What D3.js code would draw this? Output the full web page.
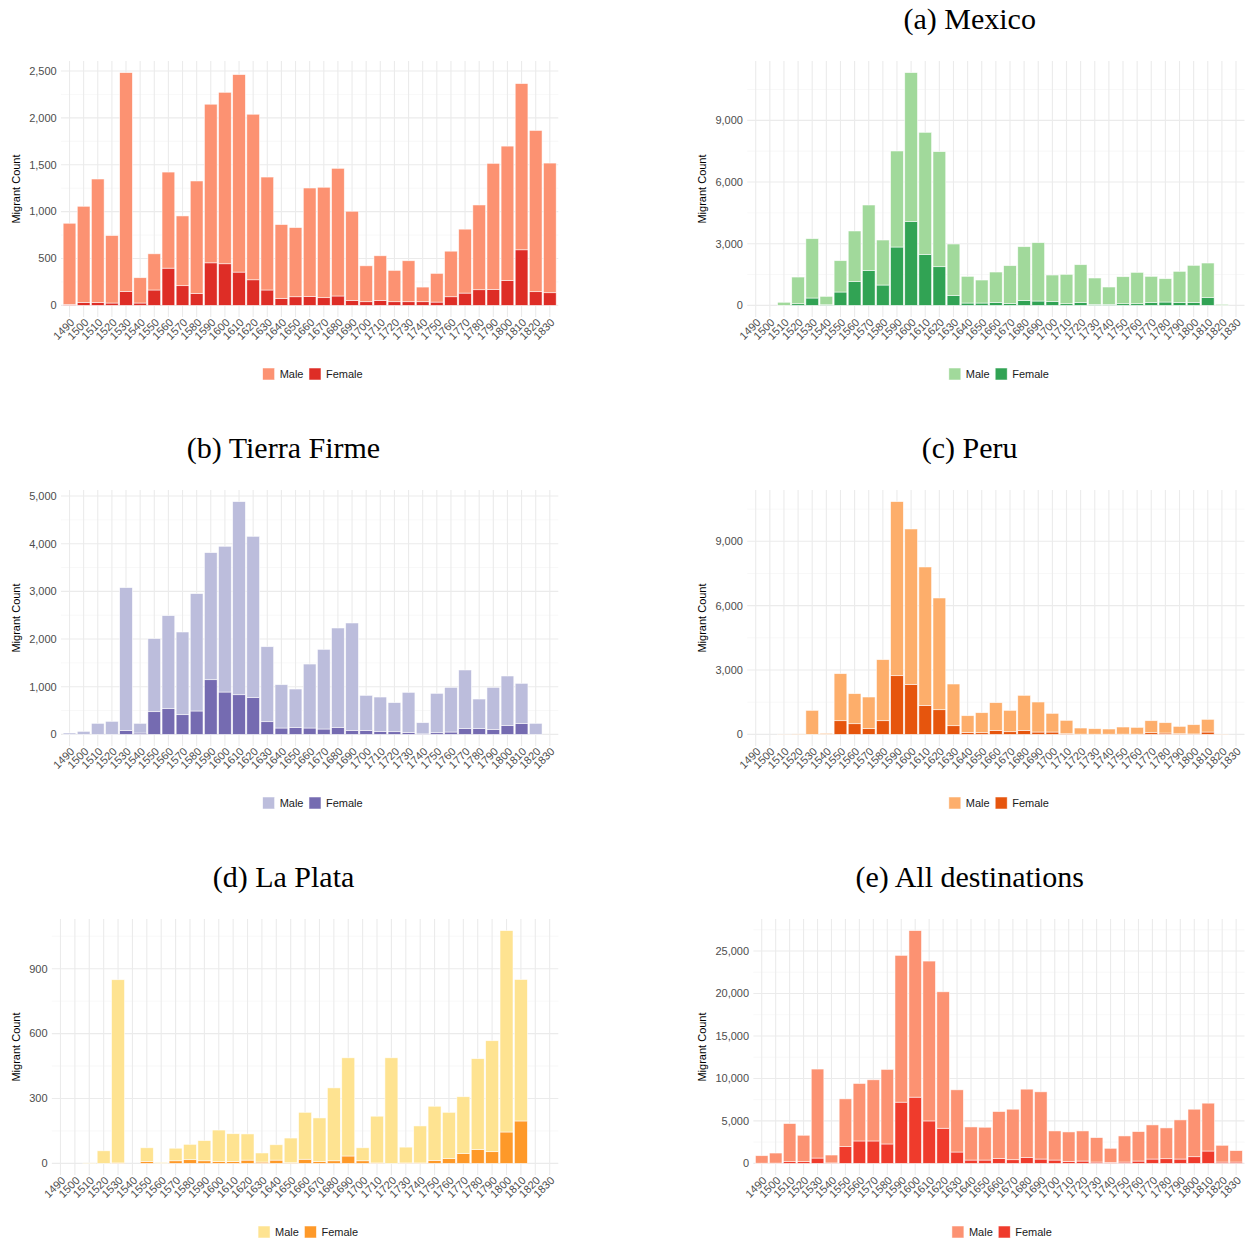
<!DOCTYPE html>
<html>
<head>
<meta charset="utf-8">
<script src="https://cdn.jsdelivr.net/npm/d3@7"></script>
<style>
  body { margin: 0; background: #fff; }
  svg { display: block; }
</style>
</head>
<body>
<svg id="fig" width="1249" height="1241"></svg>
<script>
// Decades of departure (x categories, also the x tick labels)
const decades = [1490, 1500, 1510, 1520, 1530, 1540, 1550, 1560, 1570, 1580,
  1590, 1600, 1610, 1620, 1630, 1640, 1650, 1660, 1670, 1680,
  1690, 1700, 1710, 1720, 1730, 1740, 1750, 1760, 1770, 1780,
  1790, 1800, 1810, 1820, 1830];

// Migrant counts per decade, split by gender
const firstMale = [866, 1025, 1318, 720, 2334, 270, 386, 1025, 744, 1199,
  1692, 1829, 2107, 1766, 1205, 787, 738, 1156, 1178, 1362,
  951, 383, 476, 334, 437, 156, 306, 486, 682, 904,
  1344, 1433, 1773, 1720, 1383];
const firstFemale = [10, 32, 30, 25, 149, 25, 164, 397, 210, 128,
  454, 444, 355, 273, 164, 75, 92, 96, 82, 100,
  53, 39, 53, 39, 39, 39, 35, 92, 131, 167,
  171, 266, 593, 146, 135];

const mexicoMale = [0, 0, 150, 1297, 2886, 408, 1524, 2450, 3178, 2189,
  4670, 7233, 5935, 5595, 2498, 1298, 1119, 1475, 1833, 2611,
  2838, 1280, 1427, 1832, 1281, 843, 1313, 1524, 1265, 1135,
  1508, 1800, 1670, 49, 0];
const mexicoFemale = [0, 0, 0, 80, 357, 30, 649, 1167, 1703, 989,
  2838, 4087, 2481, 1881, 486, 113, 113, 146, 97, 243,
  211, 195, 81, 146, 49, 49, 81, 81, 146, 162,
  146, 146, 389, 0, 0];

const tierraFirmeMale = [28, 63, 231, 273, 2994, 203, 1532, 1951, 1734, 2462,
  2665, 3057, 4050, 3378, 1573, 909, 804, 1342, 1671, 2084,
  2252, 734, 720, 609, 839, 235, 825, 937, 1224, 615,
  881, 1035, 839, 231, 0];
const tierraFirmeFemale = [0, 0, 0, 0, 84, 28, 476, 539, 413, 490,
  1147, 888, 832, 776, 266, 133, 147, 133, 112, 147,
  84, 84, 63, 56, 42, 10, 35, 49, 126, 126,
  105, 189, 231, 0, 0];

const peruMale = [0, 0, 10, 20, 1119, 47, 2192, 1400, 1461, 2845,
  8114, 7244, 6451, 5207, 1943, 777, 932, 1290, 995, 1632,
  1399, 870, 622, 285, 256, 241, 332, 316, 559, 482,
  343, 431, 591, 15, 0];
const peruFemale = [0, 0, 0, 0, 0, 0, 637, 497, 280, 637,
  2736, 2331, 1352, 1150, 404, 93, 78, 187, 124, 187,
  109, 109, 31, 10, 8, 8, 10, 10, 78, 62,
  30, 20, 109, 0, 0];

const laPlataMale = [0, 0, 2, 58, 847, 0, 63, 4, 58, 71,
  93, 146, 129, 121, 42, 71, 114, 217, 202, 337,
  454, 60, 216, 488, 73, 171, 250, 214, 263, 420,
  513, 931, 654, 0, 0];
const laPlataFemale = [0, 0, 0, 0, 2, 0, 9, 0, 12, 17,
  12, 8, 8, 15, 6, 15, 3, 19, 8, 12,
  34, 12, 2, 0, 2, 2, 14, 22, 45, 64,
  54, 145, 196, 0, 0];

const allMale = [882, 1185, 4485, 3107, 10476, 930, 5626, 6767, 7200, 8780,
  17283, 19605, 18820, 16063, 7322, 3897, 3862, 5514, 5945, 8031,
  7913, 3428, 3467, 3546, 2877, 1652, 3074, 3467, 4018, 3625,
  4609, 5592, 5634, 1972, 1342];
const allFemale = [20, 30, 200, 200, 626, 50, 1968, 2637, 2637, 2283,
  7205, 7795, 4996, 4134, 1335, 390, 390, 586, 430, 705,
  508, 390, 233, 272, 154, 120, 154, 272, 508, 548,
  508, 783, 1453, 154, 154];

// Y-axis tick values per panel
const firstTicks = [0, 500, 1000, 1500, 2000, 2500];
const mexicoTicks = [0, 3000, 6000, 9000];
const tierraFirmeTicks = [0, 1000, 2000, 3000, 4000, 5000];
const peruTicks = [0, 3000, 6000, 9000];
const laPlataTicks = [0, 300, 600, 900];
const allTicks = [0, 5000, 10000, 15000, 20000, 25000];

const genders = ["Male", "Female"];

// Panel definitions: grid position, caption, series and palette
const panels = [
  { col: 0, row: 0, title: null, male: firstMale, female: firstFemale, ticks: firstTicks, colors: ["#FC9272", "#DE2D26"] },
  { col: 1, row: 0, title: "(a) Mexico", male: mexicoMale, female: mexicoFemale, ticks: mexicoTicks, colors: ["#A1D99B", "#31A354"] },
  { col: 0, row: 1, title: "(b) Tierra Firme", male: tierraFirmeMale, female: tierraFirmeFemale, ticks: tierraFirmeTicks, colors: ["#BCBDDC", "#756BB1"] },
  { col: 1, row: 1, title: "(c) Peru", male: peruMale, female: peruFemale, ticks: peruTicks, colors: ["#FDAE6B", "#E6550D"] },
  { col: 0, row: 2, title: "(d) La Plata", male: laPlataMale, female: laPlataFemale, ticks: laPlataTicks, colors: ["#FEE391", "#FE9929"] },
  { col: 1, row: 2, title: "(e) All destinations", male: allMale, female: allFemale, ticks: allTicks, colors: ["#FC9272", "#EF3B2C"] }
];

const svg = d3.select("#fig");
const SANS = "'Liberation Sans', Arial, Helvetica, sans-serif";
const SERIF = "'Liberation Serif', 'Times New Roman', serif";
const colX = [0, 686.2];
const rowTop = [61, 490, 919];
const panelH = 256;
const panelRightOff = 558.3;
const fmt = d3.format(",");

// width of a string in the axis font
const measurer = svg.append("text").style("font-family", SANS).style("font-size", "11px").attr("opacity", 0);
function textWidth(s) { measurer.text(s); return measurer.node().getComputedTextLength(); }

panels.forEach(p => {
  const x0 = colX[p.col];
  const top = rowTop[p.row];
  const bottom = top + panelH;
  const labelW = d3.max(p.ticks, t => textWidth(fmt(t)));
  const left = x0 + 29.2 + labelW + 4.3;
  const right = x0 + panelRightOff;

  const rows = decades.map((d, i) => ({ decade: d, Female: p.female[i], Male: p.male[i] }));
  const stacked = d3.stack().keys(["Female", "Male"])(rows);
  const maxTotal = d3.max(rows, r => r.Female + r.Male);

  const x = d3.scaleBand().domain(decades).range([left, right]).paddingOuter(0.1).paddingInner(0);
  // emulate a discrete scale expansion of 0.6 category on each side
  const step = (right - left) / (decades.length - 1 + 1.2);
  const cx = d => left + step * (0.6 + decades.indexOf(d));
  const y = d3.scaleLinear().domain([-0.05 * maxTotal, 1.05 * maxTotal]).range([bottom, top]);

  const g = svg.append("g");

  // minor horizontal grid
  const tStep = p.ticks[1] - p.ticks[0];
  const minors = [p.ticks[0] - tStep / 2].concat(p.ticks.map(t => t + tStep / 2))
    .filter(v => v > y.domain()[0] && v < y.domain()[1]);
  g.selectAll(".minor").data(minors).join("line")
    .attr("x1", left).attr("x2", right)
    .attr("y1", d => y(d)).attr("y2", d => y(d))
    .attr("stroke", "#F4F4F4").attr("stroke-width", 0.6);
  // major horizontal grid
  g.selectAll(".major").data(p.ticks).join("line")
    .attr("x1", left).attr("x2", right)
    .attr("y1", d => y(d)).attr("y2", d => y(d))
    .attr("stroke", "#EBEBEB").attr("stroke-width", 1.1);
  // vertical grid at each decade
  g.selectAll(".vgrid").data(decades).join("line")
    .attr("x1", d => cx(d)).attr("x2", d => cx(d))
    .attr("y1", top).attr("y2", bottom)
    .attr("stroke", "#EBEBEB").attr("stroke-width", 1.1);

  // stacked bars: female at the base, male above
  const colorOf = { Male: p.colors[0], Female: p.colors[1] };
  const barW = step * 0.9;
  stacked.forEach(layer => {
    g.append("g").selectAll("rect").data(layer.filter(s => s[1] - s[0] > 0)).join("rect")
      .attr("x", s => cx(s.data.decade) - barW / 2)
      .attr("width", barW)
      .attr("y", s => y(s[1]))
      .attr("height", s => y(s[0]) - y(s[1]))
      .attr("fill", colorOf[layer.key])
      .attr("stroke", "#fff").attr("stroke-opacity", 0.75).attr("stroke-width", 0.7);
  });

  // y tick labels
  g.selectAll(".ytick").data(p.ticks).join("text")
    .attr("x", left - 4.3).attr("y", d => y(d)).attr("dy", "0.35em")
    .attr("text-anchor", "end")
    .style("font-family", SANS).style("font-size", "11px").attr("fill", "#4D4D4D")
    .text(d => fmt(d));

  // x tick labels, rotated
  g.selectAll(".xtick").data(decades).join("text")
    .attr("transform", d => `translate(${cx(d)},${bottom + 0.5}) rotate(-45)`)
    .attr("dy", "0.72em")
    .attr("text-anchor", "end")
    .style("font-family", SANS).style("font-size", "11px").attr("fill", "#4D4D4D")
    .text(d => d);

  // y axis title
  g.append("text")
    .attr("transform", `translate(${x0 + 16},${(top + bottom) / 2}) rotate(-90)`)
    .attr("dy", "0.35em")
    .attr("text-anchor", "middle")
    .style("font-family", SANS).style("font-size", "11px").attr("fill", "#000")
    .text("Migrant Count");

  // legend below the panel
  const legY = bottom + 57;
  const sw = 12, gapT = 5, gapItem = 5.5;
  const widths = genders.map(k => textWidth(k));
  const total = genders.length * (sw + gapT) + d3.sum(widths) + gapItem * (genders.length - 1);
  let lx = (left + right) / 2 + 3 - total / 2;
  const leg = g.append("g");
  genders.forEach((k, i) => {
    leg.append("rect").attr("x", lx).attr("y", legY - sw / 2).attr("width", sw).attr("height", sw)
      .attr("fill", colorOf[k]).attr("stroke", "#fff").attr("stroke-opacity", 0.75).attr("stroke-width", 0.7);
    leg.append("text").attr("x", lx + sw + gapT).attr("y", legY).attr("dy", "0.35em")
      .style("font-family", SANS).style("font-size", "11px").attr("fill", "#1A1A1A")
      .text(k);
    lx += sw + gapT + widths[i] + gapItem;
  });

  // caption above the panel
  if (p.title) {
    svg.append("text")
      .attr("x", x0 + 283.5).attr("y", top - 32.5)
      .attr("text-anchor", "middle")
      .style("font-family", SERIF).style("font-size", "30px").attr("fill", "#000")
      .text(p.title);
  }
});
measurer.remove();
</script>
</body>
</html>
